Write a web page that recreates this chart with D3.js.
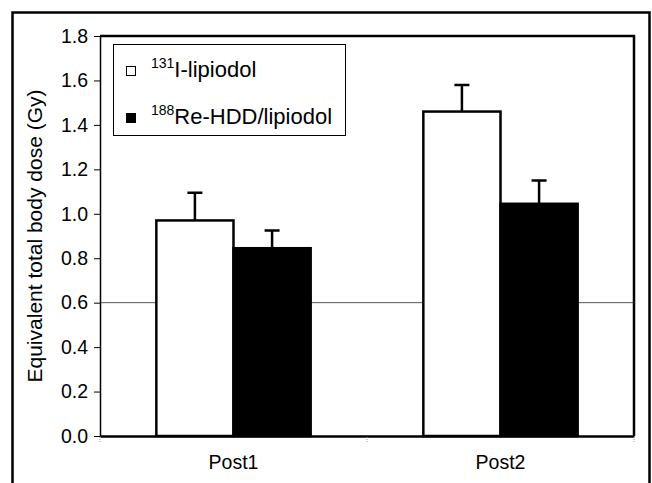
<!DOCTYPE html>
<html>
<head>
<meta charset="utf-8">
<script src="https://cdn.jsdelivr.net/npm/d3@7"></script>
<style>
  body { margin: 0; background: #fff; }
  svg text { font-family: "Liberation Sans", Arial, sans-serif; fill: #000; }
</style>
</head>
<body>
<div id="chart"></div>
<script>
// data
var categories = ["Post1", "Post2"]
var seriesNames = ["131I-lipiodol", "188Re-HDD/lipiodol"]
var isotope = ["131", "188"]
var labelRest = ["I-lipiodol", "Re-HDD/lipiodol"]
var seriesColors = ["#ffffff", "#000000"]
var iodineMean = [0.97, 1.46]
var iodineErr = [0.125, 0.12]
var rheniumMean = [0.845, 1.045]
var rheniumErr = [0.08, 0.105]
var yTicks = [0, 0.2, 0.4, 0.6, 0.8, 1.0, 1.2, 1.4, 1.6, 1.8]
var gridValues = [0.6]

const svgWidth = 652
const svgHeight = 483
var plot = {left: 100, right: 634, top: 36, bottom: 436}

var svg = d3.select("#chart")
    .append("svg")
    .attr("width", svgWidth)
    .attr("height", svgHeight)

// outer frame
svg.append("rect")
    .attr("x", 12.5).attr("y", 12.5)
    .attr("width", 637).attr("height", 490)
    .style("fill", "none")
    .style("stroke", "#000")
    .style("stroke-width", "2.5px")

var y = d3.scaleLinear().domain([0, 1.8]).range([plot.bottom, plot.top])

var x0 = d3.scaleBand()
    .domain(categories)
    .range([plot.left, plot.right])
    .paddingInner(0).paddingOuter(0)

var x1 = d3.scaleBand()
    .domain(seriesNames)
    .range([0, x0.bandwidth()])
    .paddingInner(0).paddingOuter(0.73)

// grid line
svg.selectAll(".grid")
    .data(gridValues)
    .enter()
    .append("line")
    .attr("x1", plot.left).attr("x2", plot.right)
    .attr("y1", d => y(d)).attr("y2", d => y(d))
    .style("stroke", "#555")
    .style("stroke-width", "1px")

// rows: one per category, values per series
var rows = categories.map((c, i) => ({
    cat: c,
    vals: [
        {s: seriesNames[0], v: iodineMean[i], e: iodineErr[i], col: seriesColors[0]},
        {s: seriesNames[1], v: rheniumMean[i], e: rheniumErr[i], col: seriesColors[1]}
    ]
}))

var groups = svg.selectAll(".grp")
    .data(rows)
    .enter()
    .append("g")
    .attr("transform", d => "translate(" + x0(d.cat) + ",0)")

// error bars (upper only)
groups.selectAll(".err")
    .data(d => d.vals)
    .enter()
    .append("path")
    .attr("d", d => {
        var cx = x1(d.s) + x1.bandwidth() / 2
        var top = y(d.v + d.e)
        return "M" + cx + "," + y(d.v) + "V" + top + "M" + (cx - 7.5) + "," + top + "H" + (cx + 7.5)
    })
    .style("fill", "none")
    .style("stroke", "#000")
    .style("stroke-width", "2.5px")

groups.selectAll(".bar")
    .data(d => d.vals)
    .enter()
    .append("rect")
    .attr("x", d => x1(d.s))
    .attr("y", d => y(d.v))
    .attr("width", x1.bandwidth())
    .attr("height", d => y(0) - y(d.v))
    .style("fill", d => d.col)
    .style("stroke", "#000")
    .style("stroke-width", "2.5px")

// plot frame
svg.append("path")
    .attr("d", "M" + plot.left + "," + plot.top + "H" + plot.right + "V" + plot.bottom)
    .style("fill", "none")
    .style("stroke", "#000")
    .style("stroke-width", "2.5px")

// y axis
var yAxis = svg.append("g")
    .attr("transform", "translate(" + plot.left + ",0)")
    .call(d3.axisLeft(y).tickValues(yTicks).tickFormat(d3.format(".1f")).tickSize(6).tickPadding(6).tickSizeOuter(0))
yAxis.select(".domain").style("stroke", "#000").style("stroke-width", "1.5px")
yAxis.selectAll(".tick line").style("stroke", "#000")
yAxis.selectAll("text").style("font-size", "19.5px").style("font-family", "Liberation Sans, Arial, sans-serif")

// x axis
var xAxis = svg.append("g")
    .attr("transform", "translate(0," + plot.bottom + ")")
    .call(d3.axisBottom(x0).tickSize(0).tickPadding(19).tickSizeOuter(0))
xAxis.select(".domain").style("stroke", "#000").style("stroke-width", "2.5px")
xAxis.selectAll("text").style("font-size", "19.5px").style("font-family", "Liberation Sans, Arial, sans-serif")

var bounds = [plot.left].concat(categories.map(c => x0(c) + x0.bandwidth()))
xAxis.selectAll(".bound")
    .data(bounds)
    .enter()
    .append("line")
    .attr("x1", d => d).attr("x2", d => d)
    .attr("y1", 1).attr("y2", 6)
    .style("stroke", "#999")
    .style("stroke-width", "1px")
    .style("stroke-dasharray", "1,1")

// y title
svg.append("text")
    .attr("transform", "translate(42," + (plot.top + plot.bottom) / 2 + ") rotate(-90)")
    .attr("text-anchor", "middle")
    .style("font-size", "21px")
    .text("Equivalent total body dose (Gy)")

// legend
var legend = svg.append("g")
legend.append("rect")
    .attr("x", 113.5).attr("y", 44.5)
    .attr("width", 232).attr("height", 91)
    .style("fill", "#fff")
    .style("stroke", "#000")
    .style("stroke-width", "1px")

var legRows = [77, 124]
var items = legend.selectAll(".item")
    .data(seriesNames)
    .enter()
    .append("g")

items.append("rect")
    .attr("x", 126.5)
    .attr("y", (d, i) => legRows[i] - 10.5)
    .attr("width", 9).attr("height", 9)
    .style("fill", (d, i) => seriesColors[i])
    .style("stroke", "#000")
    .style("stroke-width", "1px")

var lt = items.append("text")
    .attr("x", 151)
    .attr("y", (d, i) => legRows[i])
lt.append("tspan")
    .attr("dy", -9)
    .style("font-size", "14px")
    .text((d, i) => isotope[i])
lt.append("tspan")
    .attr("dy", 9)
    .style("font-size", "22px")
    .text((d, i) => labelRest[i])
</script>
</body>
</html>
